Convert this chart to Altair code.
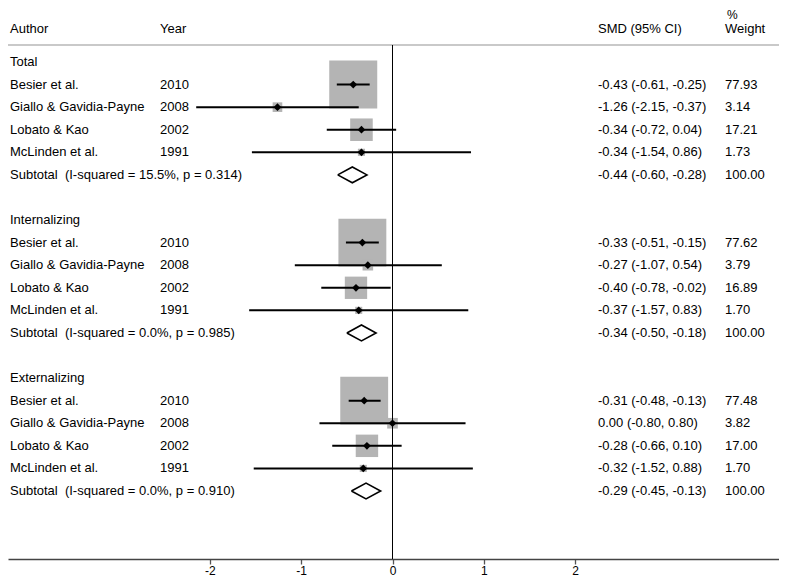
import altair as alt
import pandas as pd

# ---------------- data ----------------
groups = ["Total", "Internalizing", "Externalizing"]
authors = ["Besier et al.", "Giallo & Gavidia-Payne", "Lobato & Kao", "McLinden et al."]
years = ["2010", "2008", "2002", "1991"]
smd = [[-0.43, -1.26, -0.34, -0.34],
       [-0.33, -0.27, -0.40, -0.37],
       [-0.31, 0.00, -0.28, -0.32]]
ci_lo = [[-0.61, -2.15, -0.72, -1.54],
         [-0.51, -1.07, -0.78, -1.57],
         [-0.48, -0.80, -0.66, -1.52]]
ci_hi = [[-0.25, -0.37, 0.04, 0.86],
         [-0.15, 0.54, -0.02, 0.83],
         [-0.13, 0.80, 0.10, 0.88]]
weights = [[77.93, 3.14, 17.21, 1.73],
           [77.62, 3.79, 16.89, 1.70],
           [77.48, 3.82, 17.00, 1.70]]
sub_smd = [-0.44, -0.34, -0.29]
sub_lo = [-0.60, -0.50, -0.45]
sub_hi = [-0.28, -0.18, -0.13]
i_squared = ["15.5%", "0.0%", "0.0%"]
p_values = ["0.314", "0.985", "0.910"]
x_ticks = [-2, -1, 0, 1, 2]

# ---------------- tables ----------------
FONT = "Liberation Sans"
FS = 13
ROWS_PER_GROUP = 7
DIAMOND_HALF = 0.35

def fmt(v):
    return f"{v:.2f}"

studies, labels, diamond = [], [], []
for gi, g in enumerate(groups):
    base = gi * ROWS_PER_GROUP
    labels.append({"row": base, "author": g, "year": "", "ci": "", "w": ""})
    for si, a in enumerate(authors):
        r = base + 1 + si
        studies.append({"row": r, "smd": smd[gi][si], "lo": ci_lo[gi][si],
                        "hi": ci_hi[gi][si], "weight": weights[gi][si]})
        labels.append({"row": r, "author": a, "year": years[si],
                       "ci": f"{fmt(smd[gi][si])} ({fmt(ci_lo[gi][si])}, {fmt(ci_hi[gi][si])})",
                       "w": fmt(weights[gi][si])})
    r = base + 5
    labels.append({"row": r,
                   "author": f"Subtotal\u00a0 (I-squared = {i_squared[gi]}, p = {p_values[gi]})",
                   "year": "",
                   "ci": f"{fmt(sub_smd[gi])} ({fmt(sub_lo[gi])}, {fmt(sub_hi[gi])})",
                   "w": "100.00"})
    pts = [(sub_lo[gi], r), (sub_smd[gi], r - DIAMOND_HALF), (sub_hi[gi], r),
           (sub_smd[gi], r + DIAMOND_HALF), (sub_lo[gi], r)]
    for k, (vx, vy) in enumerate(pts):
        diamond.append({"g": g, "k": k, "vx": vx, "vy": vy})

studies = pd.DataFrame(studies)
labels = pd.DataFrame(labels)
diamond = pd.DataFrame(diamond)

# ---------------- scales ----------------
W, H = 771, 551
xscale = alt.Scale(domain=[-4.2114, 4.2333], nice=False, zero=False)
yscale = alt.Scale(domain=[-2.3915, 22.0124], reverse=True, nice=False, zero=False)
xaxis = alt.Axis(values=x_ticks, title=None, grid=False, domainColor="#444444",
                 domainWidth=1.5, tickColor="#555555", tickWidth=1.3, tickSize=5,
                 labelFont=FONT, labelFontSize=12, labelColor="black",
                 labelBaseline="alphabetic", labelPadding=10, labelFlush=False,
                 labelExpr="datum.value + ''")

def X(field):
    return alt.X(field, type="quantitative", scale=xscale, axis=xaxis)

def Y(field):
    return alt.Y(field, type="quantitative", scale=yscale, axis=None)

# boxes
boxes = alt.Chart(studies).mark_square(color="#b4b4b4", opacity=1).encode(
    x=X("smd"), y=Y("row"),
    size=alt.Size("weight:Q", scale=alt.Scale(domain=[0, 100], range=[0, 2957]), legend=None),
)
# confidence intervals
cis = alt.Chart(studies).mark_rule(color="black", strokeWidth=2).encode(
    x=X("lo"), x2="hi", y=Y("row"))
# point estimates
dots = alt.Chart(studies).mark_point(shape="diamond", filled=True, size=60,
                                     color="black", opacity=1).encode(
    x=X("smd"), y=Y("row"))
# zero line
zero = alt.Chart(studies).mark_rule(color="black", strokeWidth=1).encode(
    x=alt.X(datum=0, type="quantitative", scale=xscale, axis=xaxis),
    y=alt.value(37), y2=alt.value(H))
# header separator
hline = alt.Chart(studies).mark_rule(color="#c8c8c8", strokeWidth=1.5).encode(
    x=alt.value(0), x2=alt.value(W), y=alt.value(37))
# subtotal diamonds
diam = alt.Chart(diamond).mark_line(color="black", strokeWidth=1.6,
                                    strokeJoin="miter").encode(
    x=X("vx"), y=Y("vy"), detail="g:N", order="k:Q")

def col_text(field, px):
    return alt.Chart(labels).mark_text(align="left", baseline="middle", font=FONT,
                                       fontSize=FS, color="black").encode(
        x=alt.value(px), y=Y("row"), text=f"{field}:N")

t_author = col_text("author", 2)
t_year = col_text("year", 152)
t_ci = col_text("ci", 590)
t_w = col_text("w", 717)

headers = pd.DataFrame({"t": ["Author", "Year", "SMD (95% CI)", "Weight"]})
header_x = [2, 152, 590, 717]
hdr_layers = []
for t, px in zip(headers["t"], header_x):
    hdr_layers.append(
        alt.Chart(headers[headers["t"] == t]).mark_text(
            align="left", baseline="middle", font=FONT, fontSize=FS, color="black"
        ).encode(x=alt.value(px), y=alt.value(21), text="t:N"))
pct = alt.Chart(headers.head(1)).mark_text(
    align="left", baseline="top", font=FONT, fontSize=12, color="black", text="%"
).encode(x=alt.value(719), y=alt.value(2))

chart = alt.layer(
    hline, boxes, zero, cis, dots, diam, t_author, t_year, t_ci, t_w, *hdr_layers, pct
).properties(
    width=W, height=H,
    autosize=alt.AutoSizeParams(type="none"),
    padding={"top": 0, "left": 0, "right": 0, "bottom": 19},
).configure_view(stroke=None)

chart.save("out.html", embed_options={"renderer": "svg", "actions": False})
